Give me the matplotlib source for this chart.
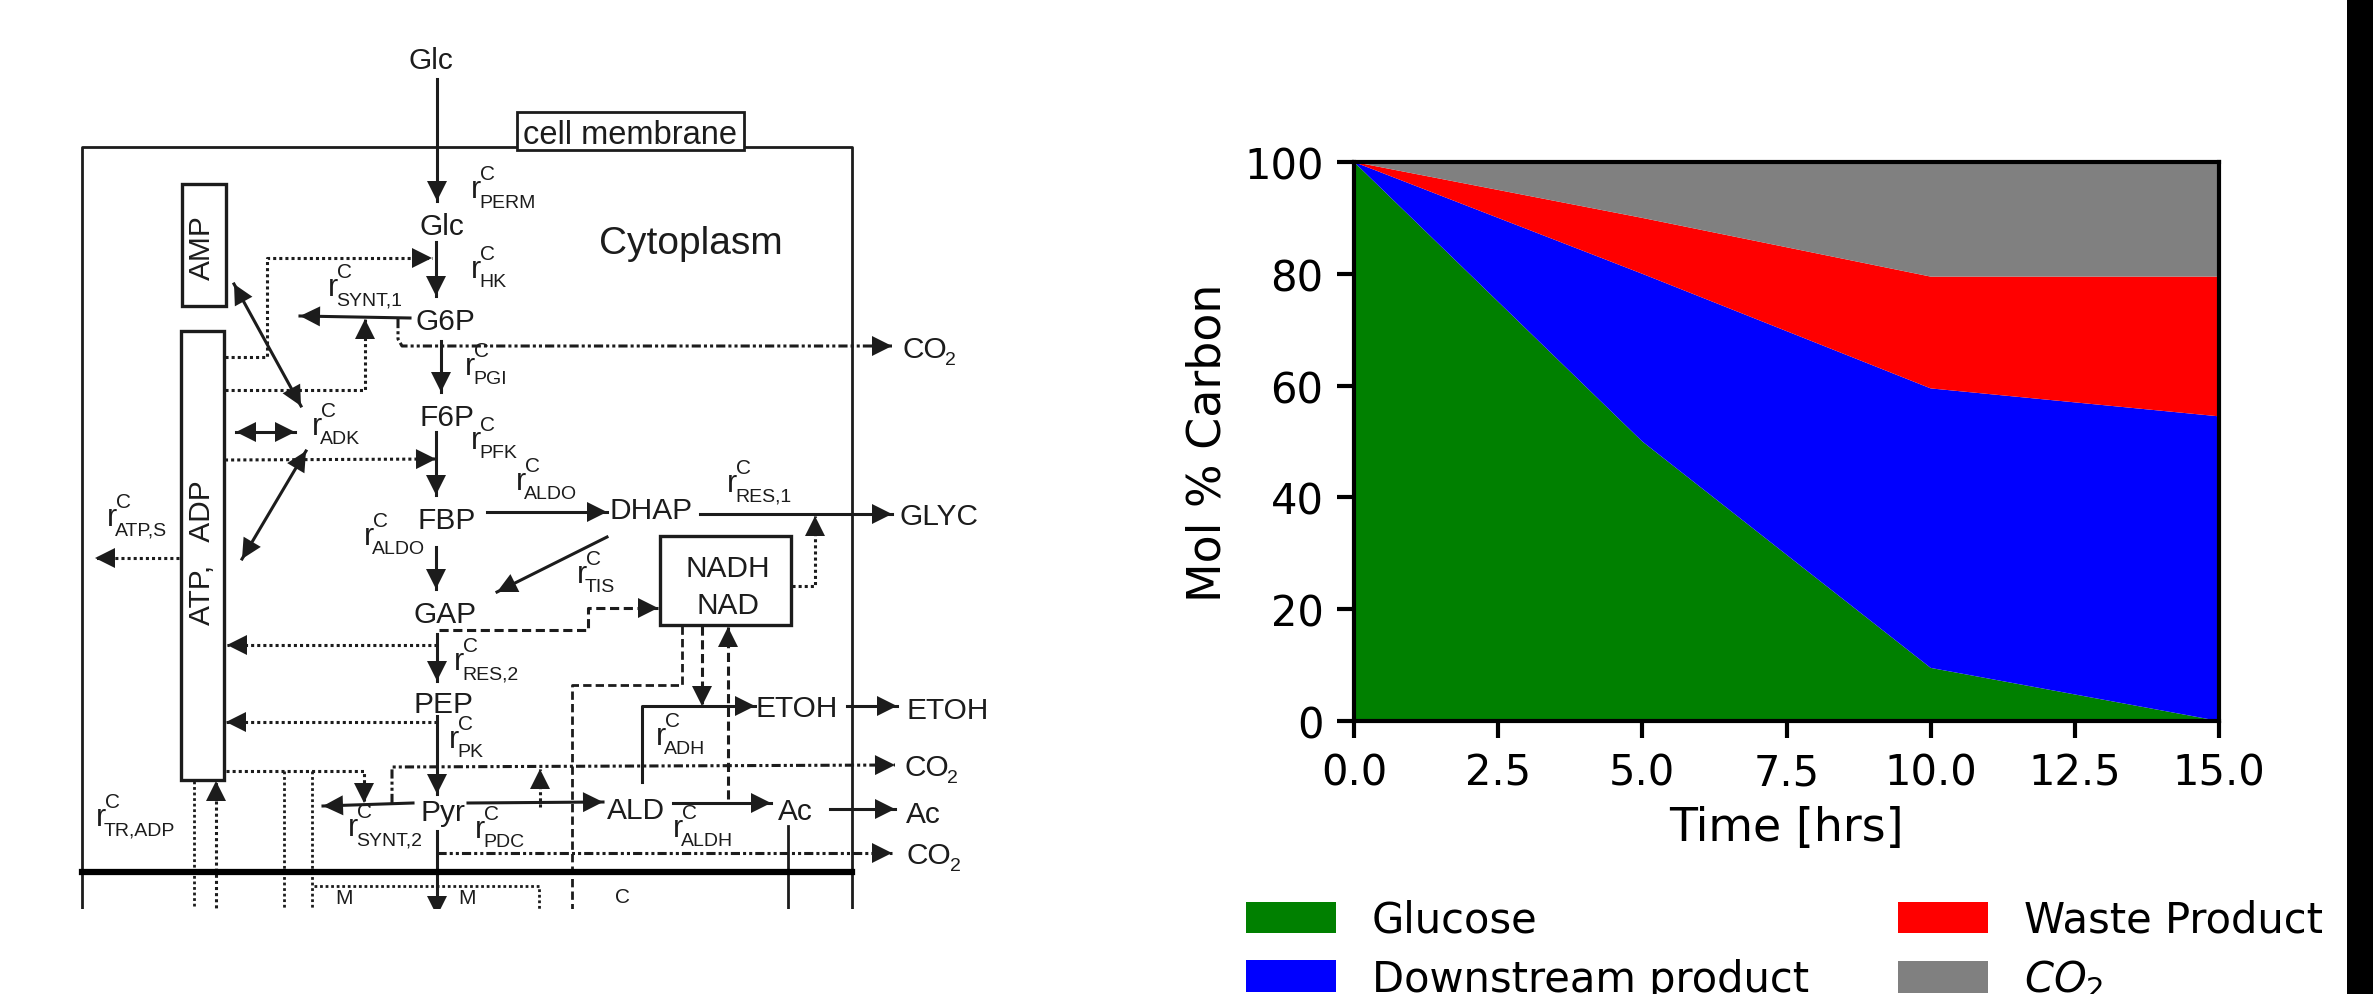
import matplotlib
matplotlib.use('Agg')
import matplotlib.pyplot as plt
from matplotlib.patches import Polygon, Rectangle
import numpy as np

# stacked area data
hours = [0, 5, 10, 15]
glucose = [100, 50, 9.5, 0]
downstream = [0, 30, 50, 54.5]
waste = [0, 10, 20, 25]
co2 = [0, 10, 20.5, 20.5]
series_labels = ['Glucose', 'Downstream product', 'Waste Product', '$CO_2$']
series_colors = ['green', 'blue', 'red', 'gray']
x_ticks = [0, 2.5, 5, 7.5, 10, 12.5, 15]
y_ticks = [0, 20, 40, 60, 80, 100]

# pathway scheme, in picture pixels
ink = '#1c1c1c'
dot = (0, (1, 1))
dash = (0, (3, 1.5))
dashdot = (0, (3, 1, 1, 1, 1, 1))

# (points, line style, head at end, head at start)
arrows = [
    ([(437, 80), (437, 202)], '-', True, False),
    ([(436, 243), (436, 297)], '-', True, False),
    ([(225, 358), (267, 358), (267, 259), (432, 259)], dot, True, False),
    ([(410, 319), (300, 317)], '-', True, False),
    ([(225, 391), (365, 391), (365, 320)], dot, True, False),
    ([(398, 320), (398, 340), (402, 347), (892, 347)], dashdot, True, False),
    ([(441, 342), (441, 393)], '-', True, False),
    ([(234, 285), (301, 407)], '-', True, True),
    ([(236, 433), (295, 433)], '-', True, True),
    ([(225, 461), (436, 460)], dot, True, False),
    ([(306, 452), (242, 560)], '-', True, True),
    ([(436, 433), (436, 496)], '-', True, False),
    ([(487, 513), (607, 513)], '-', True, False),
    ([(436, 548), (436, 590)], '-', True, False),
    ([(607, 538), (497, 593)], '-', True, False),
    ([(700, 515), (892, 515)], '-', True, False),
    ([(792, 587), (815, 587), (815, 517)], dot, True, False),
    ([(439, 631), (588, 631), (588, 609), (658, 609)], dash, True, False),
    ([(437, 635), (437, 682)], '-', True, False),
    ([(437, 646), (227, 646)], dot, True, False),
    ([(437, 717), (437, 795)], '-', True, False),
    ([(437, 723), (226, 723)], dot, True, False),
    ([(179, 559), (95, 559)], dot, True, False),
    ([(226, 772), (364, 772), (364, 804)], dot, True, False),
    ([(216, 915), (216, 782)], dot, True, False),
    ([(413, 804), (323, 807)], '-', True, False),
    ([(392, 804), (392, 768), (895, 766)], dashdot, True, False),
    ([(468, 804), (603, 803)], '-', True, False),
    ([(540, 808), (540, 770)], dot, True, False),
    ([(673, 804), (771, 804)], '-', True, False),
    ([(830, 810), (895, 810)], '-', True, False),
    ([(847, 707), (897, 707)], '-', True, False),
    ([(642, 783), (642, 707), (755, 707)], '-', True, False),
    ([(702, 627), (702, 707)], dash, True, False),
    ([(728, 800), (728, 628)], dash, True, False),
    ([(437, 854), (892, 854)], dashdot, True, False),
    ([(437, 832), (437, 917)], '-', True, False),
]
plain_lines = [
    ([(82, 915), (82, 148), (852, 148), (852, 915)], '-'),
    ([(284, 772), (284, 915)], dot),
    ([(312, 772), (312, 915)], dot),
    ([(194, 782), (194, 915)], dot),
    ([(314, 887), (539, 887), (539, 915)], dot),
    ([(682, 627), (682, 686), (572, 686), (572, 915)], dash),
    ([(788, 827), (788, 915)], '-'),
]
metabolites = [
    ('Glc', 431, 61), ('Glc', 442, 227), ('G6P', 445, 322), ('F6P', 447, 418),
    ('FBP', 447, 521), ('GAP', 445, 615), ('PEP', 443, 705), ('Pyr', 443, 813),
    ('ALD', 636, 811), ('Ac', 795, 812), ('DHAP', 651, 511), ('GLYC', 939, 517),
    ('ETOH', 797, 709), ('ETOH', 948, 711), ('Ac', 923, 815),
    ('NADH', 728, 569), ('NAD', 728, 606),
]
rates = [
    (471, 190, 'PERM'), (471, 270, 'HK'), (328, 288, 'SYNT,1'), (465, 367, 'PGI'),
    (312, 427, 'ADK'), (471, 441, 'PFK'), (516, 482, 'ALDO'), (727, 484, 'RES,1'),
    (107, 518, 'ATP,S'), (364, 537, 'ALDO'), (454, 662, 'RES,2'), (449, 740, 'PK'),
    (96, 818, 'TR,ADP'), (348, 828, 'SYNT,2'), (475, 830, 'PDC'), (577, 575, 'TIS'),
    (656, 737, 'ADH'), (673, 829, 'ALDH'),
]
co2_labels = [(902, 350), (904, 768), (907, 856)]
boxes = [(182, 185, 44, 122), (181, 332, 43, 449), (660, 537, 131, 89)]

fig = plt.figure(figsize=(23.76, 9.95), dpi=100)

# left: scheme drawn on axes in pixel units
ax_d = fig.add_axes([0, 85 / 995, 1100 / 2376, 910 / 995])
ax_d.set_xlim(0, 1100)
ax_d.set_ylim(910, 0)
ax_d.axis('off')


def head(tip, tail, size=20):
    tip = np.array(tip, float)
    tail = np.array(tail, float)
    d = (tip - tail) / np.hypot(*(tip - tail))
    n = np.array([-d[1], d[0]])
    base = tip - d * size
    ax_d.add_patch(Polygon([tip, base + n * size / 2, base - n * size / 2],
                           closed=True, color=ink, lw=0, zorder=3))


def label(x, y, s, size=21.5, ha='center', **kw):
    ax_d.text(x, y, s, fontsize=size, family='Liberation Sans', color=ink,
              ha=ha, va='center', clip_on=True, **kw)


for pts, ls in plain_lines:
    xs, ys = zip(*pts)
    ax_d.plot(xs, ys, color=ink, lw=2, ls=ls)

for pts, ls, end, start in arrows:
    xs, ys = zip(*pts)
    ax_d.plot(xs, ys, color=ink, lw=2.2, ls=ls)
    if end:
        head(pts[-1], pts[-2])
    if start:
        head(pts[0], pts[1])

ax_d.plot([82, 852], [873, 873], color='black', lw=4.5)

for x, y, w, h in boxes:
    ax_d.add_patch(Rectangle((x, y), w, h, fill=False, ec=ink, lw=2.4))
ax_d.add_patch(Rectangle((517, 113), 227, 38, fc='white', ec=ink, lw=2, zorder=2))
ax_d.text(630, 135, 'cell membrane', fontsize=23.5, family='Liberation Sans',
          color=ink, ha='center', va='center', zorder=4)

for name, x, y in metabolites:
    label(x, y, name)
for x, y, sub in rates:
    label(x, y, 'r', size=22, ha='left')
    label(x + 9, y - 15, 'C', size=15, ha='left')
    label(x + 8, y + 13, sub, size=14, ha='left')
for x, y in co2_labels:
    label(x, y, 'CO', ha='left')
    label(x + 43, y + 11, '2', size=14, ha='left')

label(691, 244, 'Cytoplasm', size=28)
label(202, 248, 'AMP', rotation=90)
label(202, 553, 'ATP,   ADP', rotation=90)
# cut-off labels at the lower edge
label(335, 899, 'M', size=15, ha='left')
label(458, 899, 'M', size=15, ha='left')
label(615, 898, 'C', size=15, ha='left')

# right: stacked area chart
ax = fig.add_axes([1354 / 2376, (995 - 722) / 995, (2219 - 1354) / 2376, (722 - 163) / 995])
polys = ax.stackplot(hours, glucose, downstream, waste, co2,
                     labels=series_labels, colors=series_colors)
ax.set_xlim(0, 15)
ax.set_ylim(0, 100)
ax.set_xticks(x_ticks)
ax.set_yticks(y_ticks)
ax.tick_params(labelsize=30, width=3, length=12, pad=10)
ax.set_xlabel('Time [hrs]', fontsize=33, labelpad=8)
ax.set_ylabel('Mol % Carbon', fontsize=33, labelpad=10)
for spine in ax.spines.values():
    spine.set_linewidth(3)

fig.legend(handles=polys, labels=series_labels, ncol=2, frameon=False,
           loc='upper left', bbox_to_anchor=(1246 / 2376, 1 - 900 / 995),
           borderpad=0, borderaxespad=0, fontsize=30, handlelength=2.16,
           handleheight=0.8, handletextpad=0.86, columnspacing=2.13, labelspacing=0.4)

# black stripe at the right edge
fig.add_artist(Rectangle((2347 / 2376, 0), 26 / 2376, 1, transform=fig.transFigure,
                         fc='black', ec='none'))

fig.savefig('out.png', dpi=100)
